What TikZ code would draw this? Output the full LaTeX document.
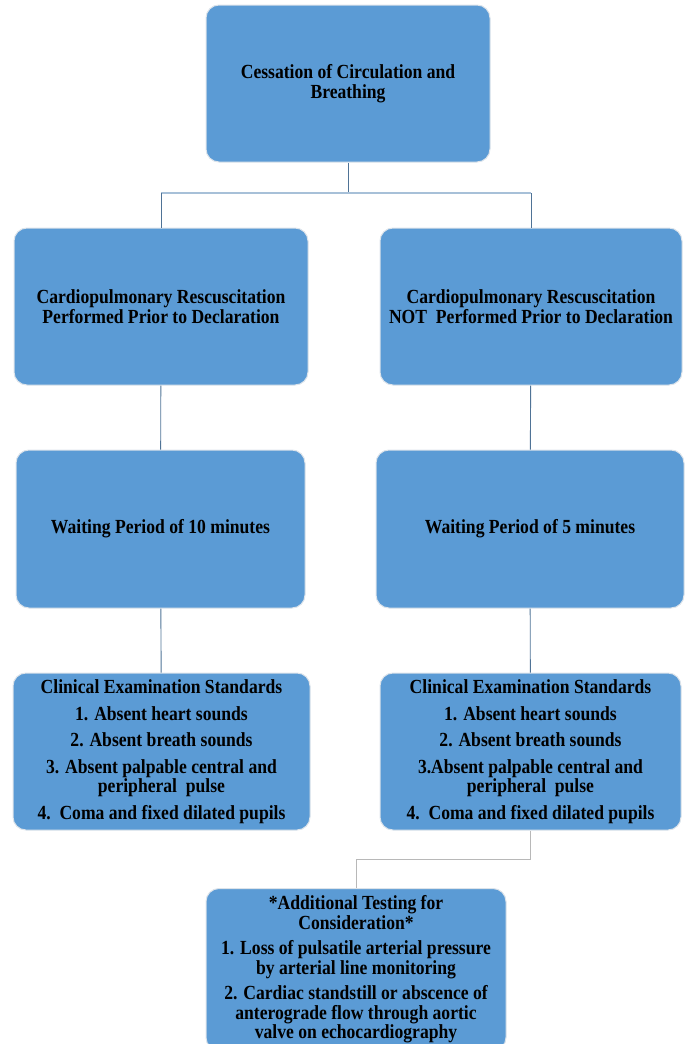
\documentclass[tikz,border=0pt]{standalone}
\usepackage{fontspec}
\setmainfont{Liberation Serif}[FakeStretch=0.88]
\usetikzlibrary{positioning}

\definecolor{boxblue}{HTML}{5B9BD5}
\definecolor{boxedge}{HTML}{DCE3EA}
\definecolor{linkdark}{HTML}{4F7396}
\definecolor{linklight}{HTML}{A7C0D8}
\definecolor{linkgrey}{HTML}{B8B8B8}

\tikzset{
  stage/.style={draw=boxedge, line width=1pt, fill=boxblue, rounded corners=13pt,
    align=center, inner sep=2pt, text=black,
    font=\bfseries\fontsize{20}{19.5}\selectfont},
  link/.style={draw=linkdark, line width=0.9pt},
  bar/.style={draw=linklight, line width=1.2pt},
  tail/.style={draw=linkgrey, line width=0.9pt},
}

\begin{document}
\begin{tikzpicture}[x=1pt,y=-1pt]
  \useasboundingbox (0,0) rectangle (686,1044);
  % Top box
  \node[stage, minimum width=284pt, minimum height=157pt] (cessation) at (348,83.5)
    {Cessation of Circulation and\\Breathing};
  % CPR boxes
  \node[stage, minimum width=294pt, minimum height=157pt] (cprYes) at (161,306.5)
    {Cardiopulmonary\ Rescuscitation\\Performed Prior to Declaration};
  \node[stage, minimum width=302pt, minimum height=157pt] (cprNo) at (531,306.5)
    {Cardiopulmonary\ Rescuscitation\\NOT\ \ Performed Prior to Declaration};
  % Waiting periods
  \node[stage, minimum width=289pt, minimum height=158pt] (waitYes) at (160.5,529)
    {Waiting Period of 10 minutes};
  \node[stage, minimum width=308pt, minimum height=158pt] (waitNo) at (530,529)
    {Waiting Period of 5 minutes};
  % Clinical examination
  \node[stage, minimum width=297pt, minimum height=157pt] (examYes) at (161.5,751.5)
    {Clinical Examination\ Standards\\[7pt]
     1. Absent heart sounds\\[7pt]
     2. Absent breath sounds\\[7pt]
     3. Absent palpable central and\\peripheral\ \ pulse\\[7pt]
     4.\ \ Coma and fixed dilated pupils};
  \node[stage, minimum width=301pt, minimum height=157pt] (examNo) at (530.5,751.5)
    {Clinical Examination\ Standards\\[7pt]
     1. Absent heart sounds\\[7pt]
     2. Absent breath sounds\\[7pt]
     3.Absent palpable central and\\peripheral\ \ pulse\\[7pt]
     4.\ \ Coma and fixed dilated pupils};
  % Additional testing (runs off the bottom edge)
  \node[stage, minimum width=300pt, minimum height=162pt] (extra) at (356,969.5)
    {*Additional Testing for\\Consideration*\\[6pt]
     1. Loss of pulsatile arterial pressure\\by arterial line monitoring\\[6pt]
     2. Cardiac\ standstill or abscence of\\anterograde flow through aortic\\valve on echocardiography};

  % Connectors
  \coordinate (split) at (348,193);
  \draw[link] (cessation) -- (split);
  \draw[bar] (cprYes.north |- split) -- (cprNo.north |- split);
  \draw[link] (cprYes.north |- split) -- (cprYes);
  \draw[link] (cprNo.north |- split) -- (cprNo);
  \draw[link] (cprYes) -- (waitYes);
  \draw[link] (waitYes) -- (examYes);
  \draw[link] (cprNo) -- (waitNo);
  \draw[link] (waitNo) -- (examNo);
  \draw[tail] (examNo.south) -- ++(0,29) -| (extra.north);
\end{tikzpicture}
\end{document}
